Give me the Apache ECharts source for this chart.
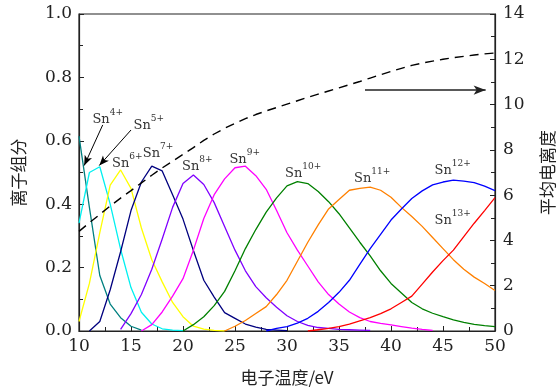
<!DOCTYPE html>
<html>
<head>
<meta charset="utf-8">
<script src="https://cdn.jsdelivr.net/npm/echarts@6/dist/echarts.min.js"></script>
<style>
  html, body { margin: 0; padding: 0; background: #fff; }
  #chart { width: 558px; height: 392px; }
</style>
</head>
<body>
<div id="chart"></div>
<script>
// Electron temperature grid (eV)
const temperature = [10, 11, 12, 13, 14, 15, 16, 17, 18, 19, 20, 21, 22, 23, 24, 25, 26, 27, 28, 29, 30,
  31, 32, 33, 34, 35, 36, 37, 38, 39, 40, 41, 42, 43, 44, 45, 46, 47, 48, 49, 50];

// Charge states and the temperature where each fraction curve begins
const ionCharges = ['4+', '5+', '6+', '7+', '8+', '9+', '10+', '11+', '12+', '13+'];
const ionStartT = [10, 10, 10, 11, 14, 16, 20, 24, 28, 32];

// Ion fractions, one value per grid temperature from the start temperature
const sn4 = [0.615, 0.39, 0.175, 0.085, 0.042, 0.015, 0.003];
const sn5 = [0.34, 0.5, 0.518, 0.40, 0.258, 0.137, 0.059, 0.022, 0.007, 0.003, 0.001];
const sn6 = [0.03, 0.15, 0.31, 0.46, 0.508, 0.45, 0.325, 0.225, 0.155, 0.09, 0.045, 0.015, 0.006, 0.002, 0.0];
const sn7 = [0.0, 0.03, 0.13, 0.25, 0.38, 0.47, 0.52, 0.505, 0.43, 0.353, 0.254, 0.16, 0.107, 0.058, 0.04,
  0.022, 0.012, 0.005, 0.003, 0.001];
const sn8 = [0.005, 0.055, 0.115, 0.195, 0.29, 0.39, 0.465, 0.492, 0.462, 0.405, 0.33, 0.255, 0.19, 0.14,
  0.105, 0.075, 0.048, 0.03, 0.018, 0.011, 0.008, 0.005, 0.004, 0.003, 0.002];
const sn9 = [0.0, 0.02, 0.06, 0.11, 0.165, 0.255, 0.355, 0.43, 0.48, 0.515, 0.52, 0.49, 0.447, 0.38, 0.31,
  0.255, 0.205, 0.155, 0.115, 0.085, 0.06, 0.042, 0.03, 0.024, 0.019, 0.014, 0.009, 0.005, 0.002];
const sn10 = [0.0, 0.02, 0.045, 0.08, 0.125, 0.19, 0.26, 0.32, 0.375, 0.42, 0.458, 0.471, 0.465, 0.44, 0.408,
  0.37, 0.325, 0.28, 0.237, 0.19, 0.15, 0.12, 0.09, 0.07, 0.056, 0.045, 0.035, 0.027, 0.021, 0.017, 0.014];
const sn11 = [0.0, 0.015, 0.033, 0.055, 0.077, 0.115, 0.16, 0.22, 0.28, 0.335, 0.385, 0.415, 0.444, 0.45,
  0.454, 0.444, 0.422, 0.39, 0.361, 0.33, 0.295, 0.26, 0.225, 0.195, 0.17, 0.15, 0.128];
const sn12 = [0.0, 0.008, 0.014, 0.025, 0.04, 0.062, 0.09, 0.122, 0.16, 0.21, 0.26, 0.305, 0.35, 0.385,
  0.418, 0.442, 0.461, 0.47, 0.476, 0.473, 0.468, 0.457, 0.443];
const sn13 = [0.0, 0.004, 0.008, 0.014, 0.022, 0.032, 0.042, 0.055, 0.07, 0.09, 0.11, 0.148, 0.186, 0.222,
  0.255, 0.298, 0.34, 0.38, 0.421];

// Average ionization degree over the whole grid
const avgCharge = [4.4, 4.78, 5.15, 5.52, 5.87, 6.2, 6.54, 6.88, 7.2, 7.5, 7.8, 8.1, 8.42, 8.7, 8.95, 9.17,
  9.38, 9.56, 9.72, 9.87, 10.02, 10.17, 10.32, 10.46, 10.6, 10.74, 10.88, 11.02, 11.17, 11.32, 11.46, 11.6,
  11.73, 11.83, 11.92, 12.0, 12.07, 12.13, 12.19, 12.24, 12.28];

// Axis tick values
const fractionTicks = [0, 0.2, 0.4, 0.6, 0.8, 1.0];
const chargeTicks = [0, 2, 4, 6, 8, 10, 12, 14];
const tempTicks = [10, 15, 20, 25, 30, 35, 40, 45, 50];

const fractions = [sn4, sn5, sn6, sn7, sn8, sn9, sn10, sn11, sn12, sn13];

const colors = ['#008080', '#00f0f0', '#ffff00', '#00007f', '#8000ff', '#ff00ff',
  '#008000', '#ff8000', '#0000ff', '#ff0000'];

// Label anchors [T, fraction] for each charge-state tag
const tagAt = [[12.76, 0.675], [16.71, 0.655], [14.64, 0.537], [17.6, 0.566], [21.38, 0.525],
  [25.93, 0.548], [31.55, 0.504], [38.19, 0.488], [45.93, 0.514], [45.93, 0.357]];

const serif = 'DejaVu Serif, serif';
const cjk = 'Noto Sans CJK SC';
const ink = '#222';

function pairs(startT, vals) {
  const i0 = temperature.indexOf(startT);
  return vals.map((v, k) => [temperature[i0 + k], v]);
}

const tagRich = {
  a: { fontFamily: serif, fontSize: 13, color: '#333', lineHeight: 18, verticalAlign: 'bottom' },
  b: { fontFamily: serif, fontSize: 9, color: '#333', lineHeight: 13, verticalAlign: 'top' }
};

const series = fractions.map((vals, i) => ({
  type: 'line',
  name: 'Sn' + ionCharges[i],
  data: pairs(ionStartT[i], vals),
  symbol: 'none',
  smooth: false,
  lineStyle: { color: colors[i], width: 1.3 },
  itemStyle: { color: colors[i] },
  z: 3,
  markPoint: {
    silent: true,
    symbol: 'circle',
    symbolSize: 0,
    data: [{ coord: tagAt[i] }],
    label: {
      show: true,
      position: 'inside',
      formatter: '{a|Sn}{b|' + ionCharges[i] + '}',
      rich: tagRich
    }
  }
}));

// pointer arrows from the two crowded tags down to their curves
function pointer(from, to) {
  return {
    silent: true,
    symbol: ['none', 'arrow'],
    symbolSize: [6, 10],
    label: { show: false },
    lineStyle: { color: '#000', width: 1, type: 'solid' },
    data: [[{ coord: from }, { coord: to }]]
  };
}
series[0].markLine = pointer([12.28, 0.65], [10.5, 0.522]);
series[1].markLine = pointer([15.0, 0.634], [11.95, 0.522]);

series.push({
  type: 'line',
  name: 'avg',
  yAxisIndex: 1,
  data: temperature.map((t, k) => [t, avgCharge[k]]),
  symbol: 'none',
  lineStyle: { color: '#000', width: 1.4, type: [9, 6] },
  z: 4,
  markLine: {
    silent: true,
    symbol: ['none', 'arrow'],
    symbolSize: [7, 12],
    label: { show: false },
    lineStyle: { color: '#222', width: 1.5, type: 'solid' },
    data: [[{ coord: [37.5, 10.64] }, { coord: [49.1, 10.64] }]]
  }
});

const axisCommon = {
  axisLine: { show: true, lineStyle: { color: ink, width: 1.2 } },
  axisTick: { show: true, inside: true, length: 5, lineStyle: { color: ink, width: 1 } },
  minorTick: { show: true, splitNumber: 2, length: 4, lineStyle: { color: ink, width: 1 } },
  splitLine: { show: false },
  axisLabel: { fontFamily: serif, fontSize: 17, color: ink },
  nameTextStyle: { fontFamily: cjk, fontSize: 17, color: ink }
};

const chart = echarts.init(document.getElementById('chart'), null, { renderer: 'canvas' });
chart.setOption({
  animation: false,
  backgroundColor: '#fff',
  textStyle: { fontFamily: serif },
  grid: {
    left: 79, right: 63, top: 14, bottom: 61,
    outerBoundsMode: 'none', containLabel: false,
    show: true, borderColor: ink, borderWidth: 1.2
  },
  xAxis: Object.assign({}, axisCommon, {
    type: 'value',
    min: tempTicks[0], max: tempTicks[tempTicks.length - 1], interval: tempTicks[1] - tempTicks[0],
    name: '电子温度/eV', nameLocation: 'middle', nameGap: 38,
    axisLabel: Object.assign({}, axisCommon.axisLabel, { margin: 7 })
  }),
  yAxis: [
    Object.assign({}, axisCommon, {
      type: 'value', position: 'left',
      min: fractionTicks[0], max: fractionTicks[fractionTicks.length - 1],
      interval: fractionTicks[1] - fractionTicks[0],
      name: '离子组分', nameLocation: 'middle', nameRotate: 90, nameGap: 52,
      axisLabel: Object.assign({}, axisCommon.axisLabel, { margin: 7, formatter: v => v.toFixed(1) })
    }),
    Object.assign({}, axisCommon, {
      type: 'value', position: 'right',
      min: chargeTicks[0], max: chargeTicks[chargeTicks.length - 1],
      interval: chargeTicks[1] - chargeTicks[0],
      name: '平均电离度', nameLocation: 'middle', nameRotate: 90, nameGap: 44,
      axisLabel: Object.assign({}, axisCommon.axisLabel, { margin: 8 })
    })
  ],
  series: series
});
</script>
</body>
</html>
